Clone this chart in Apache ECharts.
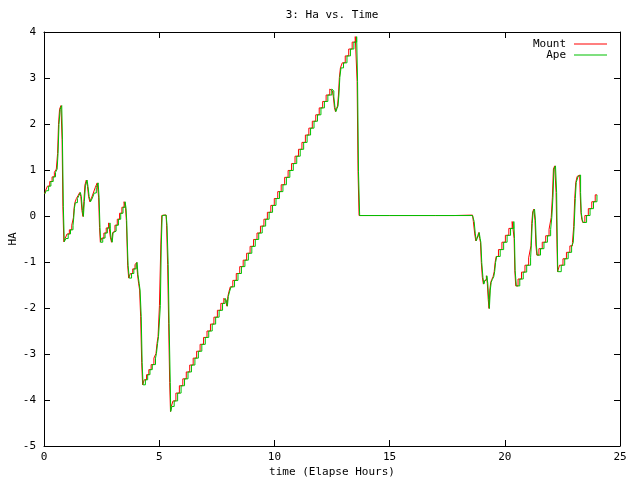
<!DOCTYPE html>
<html>
<head>
<meta charset="utf-8">
<script src="https://cdn.jsdelivr.net/npm/echarts@6/dist/echarts.min.js"></script>
<style>html,body{margin:0;padding:0;background:#fff}#c{width:640px;height:480px}</style>
</head>
<body>
<div id="c"></div>
<script>
const chartTitle = '3: Ha vs. Time';
const xName = 'time (Elapse Hours)';
const yName = 'HA';
const seriesNames = ['Mount', 'Ape'];
const xTicks = [0, 5, 10, 15, 20, 25];
const yTicks = [-5, -4, -3, -2, -1, 0, 1, 2, 3, 4];

// [elapsed hours, HA]
const mountHA = [
[0.03,0.48],[0.10,0.55],[0.20,0.65],[0.30,0.75],[0.40,0.85],[0.50,0.95],[0.57,1.02],[0.61,1.36],[0.65,1.99],[0.70,2.32],[0.77,2.40],[0.80,1.67],[0.84,0.20],[0.88,-0.56],
[0.95,-0.49],[1.05,-0.39],[1.15,-0.30],[1.26,-0.20],[1.29,-0.04],[1.32,0.17],[1.36,0.29],[1.45,0.38],[1.52,0.45],[1.58,0.51],[1.62,0.42],[1.67,0.12],[1.71,-0.01],[1.75,0.31],[1.80,0.67],[1.87,0.78],[1.91,0.64],[1.96,0.42],[2.02,0.31],[2.10,0.39],[2.18,0.50],[2.27,0.62],[2.35,0.72],[2.39,0.41],[2.43,-0.25],[2.46,-0.57],
[2.55,-0.48],[2.65,-0.37],[2.75,-0.26],[2.86,-0.15],[2.90,-0.46],[2.96,-0.57],[3.00,-0.36],[3.03,-0.33],[3.13,-0.20],[3.23,-0.07],[3.33,0.06],[3.43,0.19],[3.52,0.31],[3.56,0.17],[3.59,-0.10],[3.61,-0.50],[3.65,-1.07],[3.70,-1.35],[3.80,-1.25],[3.90,-1.15],[4.00,-1.06],[4.04,-1.01],[4.08,-1.28],[4.13,-1.46],[4.17,-1.61],[4.22,-2.19],[4.26,-3.19],[4.30,-3.67],
[4.40,-3.56],[4.50,-3.45],[4.60,-3.34],[4.70,-3.23],[4.84,-3.09],[4.88,-2.99],[4.93,-2.77],[4.97,-2.62],[5.05,-1.95],[5.09,-0.63],[5.13,0.01],[5.20,0.02],[5.30,0.02],[5.34,-0.20],[5.39,-1.05],[5.43,-2.33],[5.48,-3.62],[5.50,-4.25],
[5.55,-4.14],[5.65,-4.02],[5.80,-3.85],[5.95,-3.69],[6.10,-3.54],[6.25,-3.39],[6.40,-3.24],[6.55,-3.09],[6.70,-2.94],[6.85,-2.79],[7.00,-2.64],[7.15,-2.50],[7.30,-2.35],[7.45,-2.20],[7.60,-2.05],[7.75,-1.90],[7.86,-1.79],[7.92,-1.84],[7.96,-1.96],[8.00,-1.75],[8.05,-1.65],[8.12,-1.54],
[8.27,-1.40],[8.42,-1.25],[8.57,-1.10],[8.72,-0.96],[8.87,-0.81],[9.02,-0.66],[9.17,-0.51],[9.32,-0.37],[9.47,-0.22],[9.62,-0.07],[9.77,0.08],[9.92,0.23],[10.07,0.38],[10.22,0.53],[10.37,0.68],[10.52,0.84],[10.67,0.99],[10.82,1.14],[10.97,1.30],[11.12,1.45],[11.27,1.60],[11.42,1.76],[11.57,1.91],[11.72,2.06],[11.87,2.20],[12.02,2.35],[12.17,2.49],[12.32,2.63],[12.49,2.76],
[12.54,2.72],[12.58,2.59],[12.63,2.36],[12.67,2.27],[12.72,2.34],[12.76,2.39],[12.80,2.63],[12.84,3.01],[12.89,3.22],[13.00,3.33],[13.15,3.48],[13.30,3.63],[13.45,3.78],[13.57,3.90],[13.61,2.92],[13.65,0.96],[13.70,0.01],
[15.00,0.01],[17.00,0.01],[18.60,0.02],[18.67,-0.12],[18.72,-0.39],[18.76,-0.54],[18.80,-0.49],[18.85,-0.43],[18.89,-0.36],[18.93,-0.49],[18.96,-0.57],[19.00,-1.01],[19.05,-1.33],[19.09,-1.48],[19.13,-1.41],[19.18,-1.38],[19.22,-1.30],[19.26,-1.46],[19.30,-1.81],[19.33,-2.01],[19.37,-1.61],[19.41,-1.44],[19.46,-1.38],[19.52,-1.32],[19.56,-1.21],[19.60,-1.01],[19.65,-0.88],
[19.80,-0.73],[19.95,-0.57],[20.10,-0.42],[20.25,-0.27],[20.39,-0.12],[20.42,-0.49],[20.45,-1.19],[20.50,-1.52],[20.65,-1.37],[20.80,-1.22],[20.95,-1.07],[21.12,-0.91],[21.15,-0.65],[21.19,-0.16],[21.23,0.09],[21.29,0.15],[21.33,-0.09],[21.37,-0.63],[21.41,-0.85],
[21.55,-0.71],[21.70,-0.57],[21.85,-0.43],[21.99,-0.29],[22.04,-0.03],[22.09,0.41],[22.13,1.02],[22.20,1.09],[22.25,0.51],[22.28,-0.63],[22.30,-1.21],[22.45,-1.07],[22.60,-0.93],[22.75,-0.79],[22.90,-0.65],[22.97,-0.58],[23.01,-0.23],[23.06,0.38],[23.10,0.73],[23.18,0.86],[23.25,0.89],[23.29,0.51],[23.32,0.07],[23.36,-0.07],[23.40,-0.14],
[23.55,0.01],[23.70,0.16],[23.85,0.31],[24.00,0.46]
];
// Ape tracks Mount; at this resolution the readings are the same
const apeHA = mountHA;

const FONT = 'DejaVu Sans Mono';
const txt = {fontFamily: FONT, fontSize: 11, color: '#000'};
const RED = '#ff0000', GREEN = '#00c000';

const chart = echarts.init(document.getElementById('c'), null, {renderer: 'canvas'});
const axisCommon = {
  axisLine: {show: true, onZero: false, lineStyle: {color: '#000', width: 1}},
  axisTick: {show: true, inside: true, length: 6, lineStyle: {color: '#000'}},
  splitLine: {show: false}
};
const legendCommon = {right: 33, orient: 'vertical', align: 'right', padding: 0, icon: 'rect',
  itemWidth: 33, itemHeight: 1, textStyle: Object.assign({padding: [0, 3, 0, 0], lineHeight: 13}, txt), selectedMode: false};
chart.setOption({
  animation: false,
  backgroundColor: '#fff',
  title: {text: chartTitle, left: 332, textAlign: 'center', top: 10, padding: 0, textStyle: Object.assign({fontWeight: 'normal'}, txt)},
  legend: [
    Object.assign({data: [{name: seriesNames[0], itemStyle: {color: RED, borderWidth: 0, opacity: 1}}], top: 37.5}, legendCommon),
    Object.assign({data: [{name: seriesNames[1], itemStyle: {color: GREEN, borderWidth: 0, opacity: 1}}], top: 48.5}, legendCommon)
  ],
  grid: {left: 44, right: 20, top: 32, bottom: 34, containLabel: false, outerBoundsMode: 'none'},
  xAxis: [
    Object.assign({type: 'value', min: xTicks[0], max: xTicks[xTicks.length - 1], interval: 5, position: 'bottom',
      name: xName, nameLocation: 'middle', nameGap: 21, nameMoveOverlap: false, nameTextStyle: txt,
      axisLabel: Object.assign({margin: 6}, txt)}, axisCommon),
    Object.assign({type: 'value', min: xTicks[0], max: xTicks[xTicks.length - 1], interval: 5, position: 'top',
      axisLabel: {show: false}}, axisCommon)
  ],
  yAxis: [
    Object.assign({type: 'value', min: yTicks[0], max: yTicks[yTicks.length - 1], interval: 1, position: 'left',
      name: yName, nameLocation: 'middle', nameGap: 25, nameMoveOverlap: false, nameRotate: 90, nameTextStyle: txt,
      axisLabel: Object.assign({margin: 8}, txt)}, axisCommon),
    Object.assign({type: 'value', min: yTicks[0], max: yTicks[yTicks.length - 1], interval: 1, position: 'right',
      axisLabel: {show: false}}, axisCommon)
  ],
  series: [
    {name: seriesNames[0], type: 'line', step: 'middle', data: mountHA, showSymbol: false, symbol: 'none',
      color: RED, lineStyle: {color: RED, width: 1}, z: 2},
    {name: seriesNames[1], type: 'line', step: 'end', data: apeHA, showSymbol: false, symbol: 'none',
      color: GREEN, lineStyle: {color: GREEN, width: 1}, z: 3}
  ]
});
</script>
</body>
</html>
